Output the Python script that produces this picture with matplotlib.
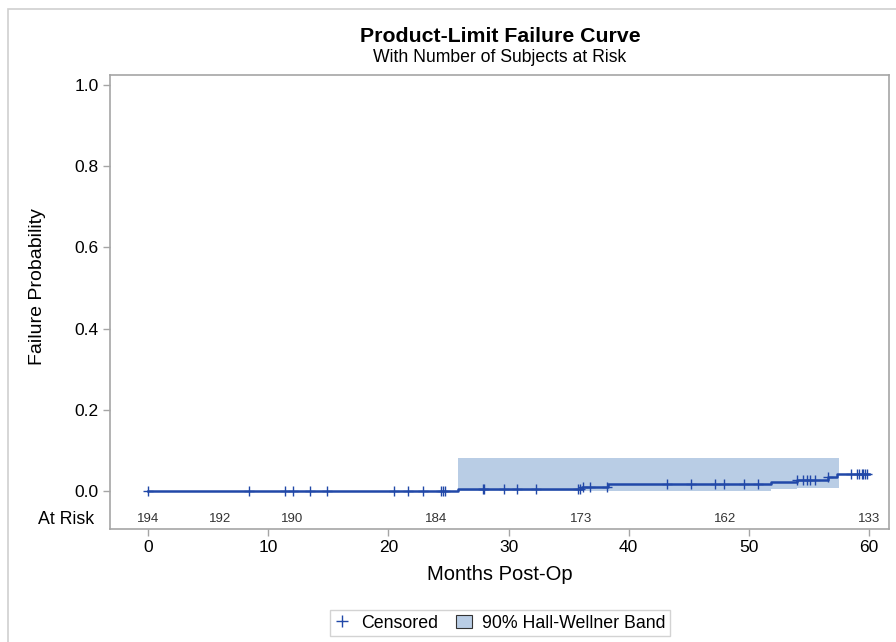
import matplotlib
matplotlib.use('Agg')
import matplotlib.pyplot as plt
from matplotlib.lines import Line2D
from matplotlib.patches import Patch, Rectangle
import matplotlib.transforms as mtransforms
import numpy as np

plt.rcParams['font.family'] = ['Liberation Sans', 'DejaVu Sans']

## Data
# event times (months) and failure probability after each step
event_t = [0, 25.8, 36.1, 38.3, 51.8, 54.0, 56.6, 57.3]
fail_p = [0, 0.0052, 0.0106, 0.0162, 0.0222, 0.0275, 0.034, 0.041]
end_t = 60.0

# 90% Hall-Wellner band
band_t = [25.8, 51.8, 54.0, 57.5]
band_lo = [0.001, 0.004, 0.008, 0.008]
band_hi = [0.082, 0.082, 0.082, 0.082]

# censored times
cens_t = [0, 8.4, 11.4, 12.1, 13.5, 14.9, 20.5, 21.6, 22.9, 24.4, 24.55, 24.7,
          27.9, 28.0, 29.6, 30.7, 32.3, 35.8, 35.95, 36.2, 36.8, 38.2,
          43.2, 45.2, 47.2, 47.9, 49.6, 50.8, 54.0, 54.5, 54.8, 55.1, 55.5,
          56.6, 58.5, 59.0, 59.2, 59.4, 59.5, 59.65, 59.8]

# numbers at risk
risk_t = [0, 6, 12, 24, 36, 48, 60]
risk_n = [194, 192, 190, 184, 173, 162, 133]

line_col = '#2148a8'
band_col = '#b9cde5'
frame_col = '#a5a5a5'

fig = plt.figure(figsize=(8.96, 6.42), dpi=100)
ax = fig.add_axes([110/896, 1 - 529/642, 779/896, 454/642])

# band
ax.fill_between(band_t, band_lo, band_hi, step='post', color=band_col, lw=0)

# step curve
ax.step(event_t + [end_t], fail_p + [fail_p[-1]], where='post', color=line_col, lw=1.8)

# censored marks sit on the curve
idx = np.searchsorted(event_t, cens_t, side='right') - 1
cens_y = [fail_p[i] for i in idx]
ax.plot(cens_t, cens_y, ls='none', marker='+', ms=7, mew=1.0, color=line_col)

# at risk row
for t, n in zip(risk_t, risk_n):
    ax.text(t, -0.069, str(n), ha='center', va='center', fontsize=9.5, color='#333333')
trans = mtransforms.blended_transform_factory(ax.transAxes, ax.transData)
ax.text(-16/779, -0.069, 'At Risk', transform=trans, ha='right', va='center', fontsize=12.8)

ax.set_xlim(-3.16, 61.66)
ax.set_ylim(-0.0936, 1.0246)
ax.set_xticks(range(0, 61, 10))
ax.set_yticks([0, 0.2, 0.4, 0.6, 0.8, 1.0])
ax.set_yticklabels(['0.0', '0.2', '0.4', '0.6', '0.8', '1.0'])
ax.tick_params(axis='both', direction='out', length=5, width=1, color=frame_col,
               labelsize=12.5, pad=3)
for s in ax.spines.values():
    s.set_color(frame_col)
    s.set_linewidth(1.2)

ax.set_xlabel('Months Post-Op', fontsize=14.5, labelpad=7)
ax.set_ylabel('Failure Probability', fontsize=14)
ax.yaxis.set_label_coords(-0.082, 0.533)

fig.text(500/896, 1 - 36/642, 'Product-Limit Failure Curve', ha='center', va='center',
         fontsize=15.3, fontweight='bold')
fig.text(500/896, 1 - 57/642, 'With Number of Subjects at Risk', ha='center', va='center',
         fontsize=12.7)

handles = [Line2D([], [], ls='none', marker='+', ms=9, mew=1.0, color=line_col),
           Patch(facecolor=band_col, edgecolor='#333333', lw=0.8)]
leg = fig.legend(handles, ['Censored', '90% Hall-Wellner Band'], loc='center',
                 bbox_to_anchor=(500/896, 1 - 623/642), ncol=2, fontsize=12.8,
                 fancybox=False, edgecolor='#c8c8c8', handlelength=0.9,
                 handletextpad=0.6, columnspacing=1.0, borderpad=0.25)
leg.get_frame().set_linewidth(1.0)

# outer border of the graph
fig.patches.append(Rectangle((8/896, -0.1), 1.5, 1 - 9/642 + 0.1, transform=fig.transFigure,
                             fill=False, edgecolor='#cfcfcf', lw=1.2))

fig.savefig('out.png', dpi=100)
